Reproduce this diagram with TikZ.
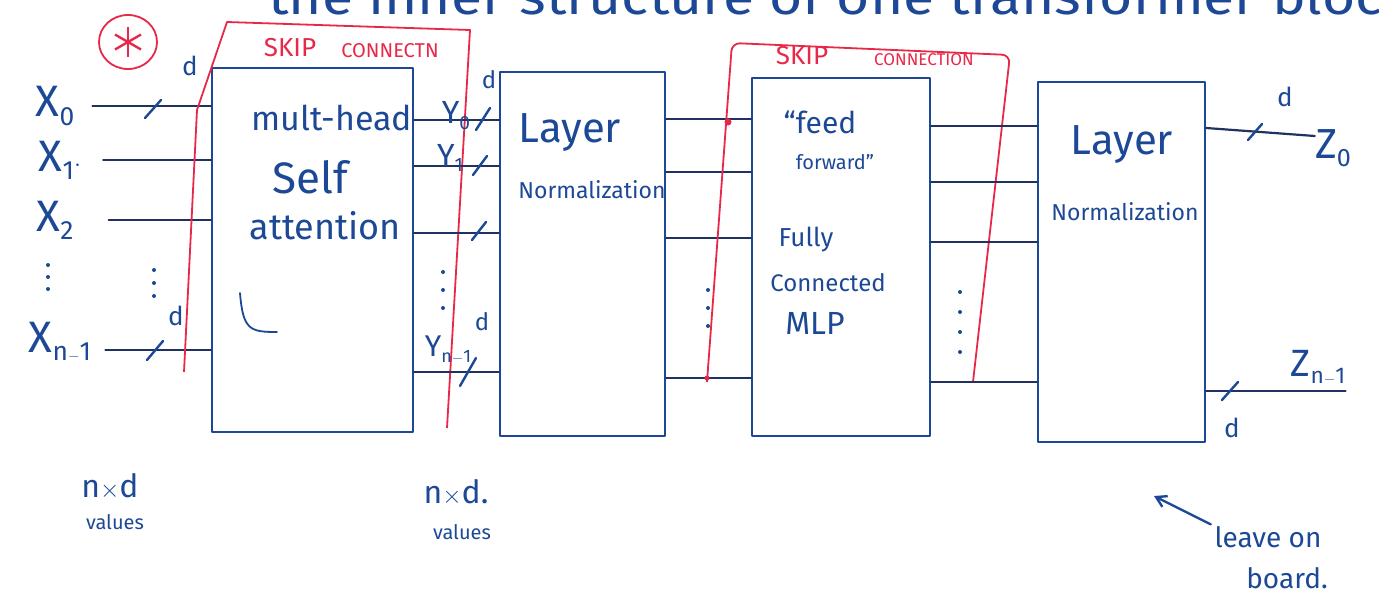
\documentclass[tikz,border=0pt]{standalone}
\usepackage{fontspec}
\setmainfont{Fira Sans}
\usetikzlibrary{positioning, arrows.meta}
\definecolor{inkblue}{RGB}{28,72,150}
\definecolor{inkdark}{RGB}{32,50,95}
\definecolor{inkred}{RGB}{232,40,72}
\newcommand\fs[1]{\fontsize{#1}{#1}\selectfont}
\newcommand\dn[1]{\raisebox{-0.35ex}{\scalebox{0.6}{#1}}}
\tikzset{
	ink/.style={draw=inkblue, line width=2.4pt, line cap=round, line join=round}, % pen strokes
	block/.style={ink, rectangle, inner sep=0pt}, % the four boxes
	wire/.style={draw=inkdark, line width=2.2pt, line cap=round}, % the n lanes
	skip/.style={draw=inkred, line width=1.8pt, line join=round}, % skip connections
	hand/.style={text=inkblue, inner sep=0pt},
	redtxt/.style={text=inkred, inner sep=0pt},
}

\begin{document}
\begin{tikzpicture}[x=1pt, y=-1pt]
	\useasboundingbox (0,0) rectangle (1379,602);

	% heading, cut off at the top
	\node[hand, anchor=base west, font=\fs{50}] (title) at (268,15) {\scalebox{1.14}[1]{the inner structure of one transformer block}};
	\draw[skip] (128,42) ellipse [x radius=29, y radius=27];
	\foreach \a in {90,30,-30,-90,150,210} \draw[skip, line width=2.4pt] (128,42) -- ++(\a:15);

	% blocks
	\node[block, minimum width=201pt, minimum height=364pt] (mha) at (312.5,250) {};
	\node[block, minimum width=165pt, minimum height=364pt] (ln1) at (582.5,254) {};
	\node[block, minimum width=178pt, minimum height=358pt] (ff) at (841,257) {};
	\node[block, minimum width=167pt, minimum height=360pt] (ln2) at (1121.5,262) {};

	\node[hand, font=\fs{34}] (mhaA) at (332,118) {mult-head};
	\node[hand, font=\fs{44}] (mhaB) at (310,177) {Self};
	\node[hand, font=\fs{36}] (mhaC) at (325,226) {attention};
	\draw[ink, line width=1.8pt] (240,293) .. controls (243,330) and (250,332) .. (277,332);

	\node[hand, font=\fs{42}] (ln1A) at (570,133) {Layer};
	\node[hand, font=\fs{23}] (ln1B) at (592,190) {Normalization};

	\node[hand, font=\fs{30}] (ffA) at (820,122) {``feed};
	\node[hand, font=\fs{20}] (ffB) at (835,162) {forward''};
	\node[hand, font=\fs{26}] (ffC) at (806,240) {Fully};
	\node[hand, font=\fs{24}] (ffD) at (828,283) {Connected};
	\node[hand, font=\fs{32}] (ffE) at (815,323) {MLP};

	\node[hand, font=\fs{42}] (ln2A) at (1122,145) {Layer};
	\node[hand, font=\fs{23}] (ln2B) at (1125,212) {Normalization};

	% inputs
	\node[hand, font=\fs{44}] (x0) at (55,106) {X\dn{0}};
	\node[hand, font=\fs{44}] (x1) at (60,160) {X\dn{1}$\cdot$};
	\node[hand, font=\fs{44}] (x2) at (55,220) {X\dn{2}};
	\node[hand, font=\fs{44}] (xn) at (60,342) {X\dn{n$-$1}};
	\draw[wire, shorten <=18pt] (x0.east) -- (x0.east -| mha.west);
	\draw[wire, shorten <=22pt] (x1.east) -- (x1.east -| mha.west);
	\draw[wire, shorten <=35pt] (x2.east) -- (x2.east -| mha.west);
	\draw[wire, shorten <=14pt] ([yshift=-8pt]xn.east) -- ([yshift=-8pt]xn.east -| mha.west);
	\draw[ink] (145,118) -- (161,100);
	\draw[ink] (147,360) -- (163,341);
	\node[hand, font=\fs{26}] (dx0) at (190,66) {d};
	\node[hand, font=\fs{26}] (dxn) at (176,316) {d};
	\foreach \y in {265,277,289} \fill[inkblue] (48,\y) circle (2pt);
	\foreach \y in {270,283,296} \fill[inkblue] (154,\y) circle (2pt);

	% skip connection around attention
	\draw[skip] (184,372) -- (197,110) -- (227,22) -- (470,30) -- (447,428);
	\node[redtxt, font=\fs{26}] (skipA) at (290,48) {SKIP};
	\node[redtxt, font=\fs{20}] (skipB) at (390,51) {CONNECTN};

	% attention -> norm
	\foreach \y in {120,166,233,372} \draw[wire] (mha.east |- 0,\y) -- (ln1.west |- 0,\y);
	\node[hand, font=\fs{32}] (y0) at (456,116) {Y\dn{0}};
	\node[hand, font=\fs{32}] (y1) at (450,158) {Y\dn{1}};
	\node[hand, font=\fs{30}] (yn) at (448,350) {Y\dn{n$-$1}};
	\draw[ink] (476,130) -- (490,108);
	\draw[ink] (473,175) -- (487,156);
	\draw[ink] (472,240) -- (486,222);
	\draw[ink] (460,386) -- (476,358);
	\node[hand, font=\fs{24}] (dy0) at (489,80) {d};
	\node[hand, font=\fs{24}] (dyn) at (482,322) {d};
	\foreach \y in {272,290,308} \fill[inkblue] (443,\y) circle (2pt);

	% norm -> feed forward
	\foreach \y in {119,172,238,378} \draw[wire] (ln1.east |- 0,\y) -- (ff.west |- 0,\y);
	\foreach \y in {290,308,326} \fill[inkblue] (708,\y) circle (2pt);

	% skip connection around feed forward
	\draw[skip, rounded corners=8pt] (707,382) -- (732,43) -- (1010,55) -- (973,382);
	\fill[inkred] (728,122) circle (3.5pt);
	\fill[inkred] (707,378) circle (2.5pt);
	\node[redtxt, font=\fs{26}] (skipC) at (802,56) {SKIP};
	\node[redtxt, font=\fs{17}] (skipD) at (924,60) {CONNECTION};

	% feed forward -> norm
	\foreach \y in {126,182,242,382} \draw[wire] (ff.east |- 0,\y) -- (ln2.west |- 0,\y);
	\foreach \y in {292,312,332,352} \fill[inkblue] (960,\y) circle (2pt);

	% outputs
	\node[hand, font=\fs{42}] (z0) at (1333,148) {Z\dn{0}};
	\node[hand, font=\fs{38}] (zn) at (1318,368) {Z\dn{n$-$1}};
	\draw[wire] (ln2.east |- 0,128) -- (z0.west |- 0,136);
	\draw[wire] (ln2.east |- 0,391) -- (zn.east |- 0,391);
	\draw[ink] (1248,140) -- (1262,124);
	\draw[ink] (1222,400) -- (1238,382);
	\node[hand, font=\fs{26}] (dz0) at (1285,97) {d};
	\node[hand, font=\fs{26}] (dzn) at (1232,428) {d};

	% notes below
	\node[hand, font=\fs{32}] (nA) at (110,487) {n$\times$d};
	\node[hand, font=\fs{20}] (nB) at (115,522) {values};
	\node[hand, font=\fs{32}] (nC) at (456,493) {n$\times$d.};
	\node[hand, font=\fs{20}] (nD) at (462,532) {values};

	\node[hand, font=\fs{28}] (lv) at (1268,537) {leave on};
	\node[hand, font=\fs{28}] (bd) at (1287,578) {board.};
	\coordinate (aim) at (1154,496);
	\draw[ink, -{Straight Barb[length=10pt, width=12pt]}, shorten <=4pt] (lv.north west) -- (aim);
\end{tikzpicture}
\end{document}
